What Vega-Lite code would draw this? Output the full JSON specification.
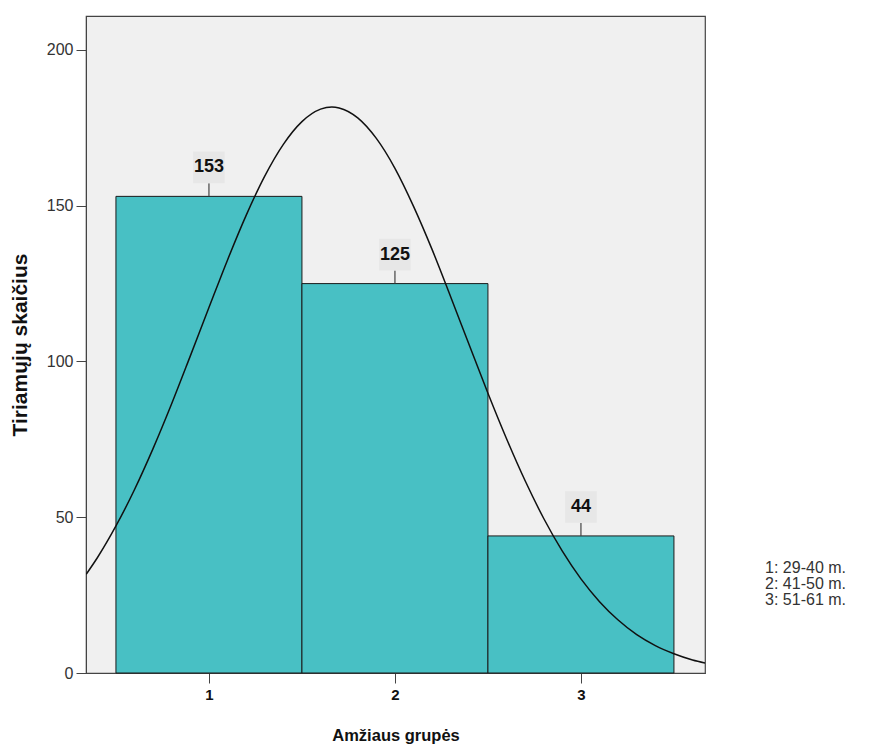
{
  "$schema": "https://vega.github.io/schema/vega-lite/v6.json",
  "width": 619,
  "height": 657,
  "autosize": {"type": "none"},
  "padding": {"left": 86, "top": 16, "right": 186, "bottom": 74},
  "background": "white",
  "config": {
    "font": "Liberation Sans",
    "view": {"fill": "#f0f0f0", "stroke": "#444444", "strokeWidth": 1.2},
    "axis": {"grid": false, "domainColor": "#444444", "tickColor": "#444444", "labelColor": "#333333", "titleColor": "#111111", "labelFont": "Liberation Sans", "titleFont": "Liberation Sans"}
  },
  "datasets": {
    "bars": [
      {"group": 1, "start": 0.5, "end": 1.5, "count": 153},
      {"group": 2, "start": 1.5, "end": 2.5, "count": 125},
      {"group": 3, "start": 2.5, "end": 3.5, "count": 44}
    ],
    "curve": [
      {"x": 0.34, "y": 31.7}, {"x": 0.4, "y": 37.0}, {"x": 0.5, "y": 47.2}, {"x": 0.6, "y": 58.9},
      {"x": 0.7, "y": 72.1}, {"x": 0.8, "y": 86.5}, {"x": 0.9, "y": 101.8}, {"x": 1.0, "y": 117.3},
      {"x": 1.1, "y": 132.6}, {"x": 1.2, "y": 146.9}, {"x": 1.3, "y": 159.5}, {"x": 1.4, "y": 169.7},
      {"x": 1.5, "y": 177.0}, {"x": 1.6, "y": 181.0}, {"x": 1.661, "y": 181.7}, {"x": 1.7, "y": 181.4},
      {"x": 1.8, "y": 178.2}, {"x": 1.9, "y": 171.6}, {"x": 2.0, "y": 162.0}, {"x": 2.1, "y": 149.8},
      {"x": 2.2, "y": 135.9}, {"x": 2.3, "y": 120.7}, {"x": 2.4, "y": 105.2}, {"x": 2.5, "y": 89.8},
      {"x": 2.6, "y": 75.2}, {"x": 2.7, "y": 61.7}, {"x": 2.8, "y": 49.6}, {"x": 2.9, "y": 39.1},
      {"x": 3.0, "y": 30.2}, {"x": 3.1, "y": 22.9}, {"x": 3.2, "y": 17.0}, {"x": 3.3, "y": 12.3},
      {"x": 3.4, "y": 8.8}, {"x": 3.5, "y": 6.2}, {"x": 3.6, "y": 4.2}, {"x": 3.67, "y": 3.2}
    ],
    "notes": [
      {"note": "1: 29-40 m.", "nx": 3.99, "ny": 33.8},
      {"note": "2: 41-50 m.", "nx": 3.99, "ny": 28.6},
      {"note": "3: 51-61 m.", "nx": 3.99, "ny": 23.4}
    ]
  },
  "layer": [
    {
      "data": {"name": "bars"},
      "mark": {"type": "rect", "fill": "#48c0c4", "stroke": "#1a1a1a", "strokeWidth": 1},
      "encoding": {
        "x": {"field": "start", "type": "quantitative", "scale": {"domain": [0.339, 3.667], "nice": false, "zero": false},
          "axis": {"values": [1, 2, 3], "format": "d", "labelFontWeight": "bold", "labelFontSize": 15, "labelColor": "#111111", "tickSize": 10, "labelPadding": 4,
            "title": "Amžiaus grupės", "titleFontSize": 16.5, "titleFontWeight": "bold", "titlePadding": 25}},
        "x2": {"field": "end"},
        "y": {"field": "count", "type": "quantitative", "scale": {"domain": [0, 210.9], "nice": false},
          "axis": {"values": [0, 50, 100, 150, 200], "labelFontSize": 16, "tickSize": 10, "labelPadding": 3,
            "title": "Tiriamųjų skaičius", "titleFontSize": 21, "titleFontWeight": "bold", "titlePadding": 16}},
        "y2": {"datum": 0}
      }
    },
    {
      "data": {"name": "curve"},
      "mark": {"type": "line", "color": "#111111", "strokeWidth": 1.5, "interpolate": "monotone", "clip": true},
      "encoding": {
        "x": {"field": "x", "type": "quantitative"},
        "y": {"field": "y", "type": "quantitative"}
      }
    },
    {
      "data": {"name": "bars"},
      "mark": {"type": "rule", "color": "#444444", "strokeWidth": 1.2, "y2Offset": -13},
      "encoding": {
        "x": {"field": "group", "type": "quantitative"},
        "y": {"field": "count", "type": "quantitative"},
        "y2": {"field": "count"}
      }
    },
    {
      "data": {"name": "bars"},
      "mark": {"type": "point", "shape": "square", "size": 1000, "filled": true, "color": "#e7e7e7", "opacity": 1, "yOffset": -29},
      "encoding": {
        "x": {"field": "group", "type": "quantitative"},
        "y": {"field": "count", "type": "quantitative"}
      }
    },
    {
      "data": {"name": "bars"},
      "mark": {"type": "text", "fontWeight": "bold", "fontSize": 18, "color": "#111111", "baseline": "middle", "yOffset": -29},
      "encoding": {
        "x": {"field": "group", "type": "quantitative"},
        "y": {"field": "count", "type": "quantitative"},
        "text": {"field": "count"}
      }
    },
    {
      "data": {"name": "notes"},
      "mark": {"type": "text", "align": "left", "baseline": "middle", "fontSize": 16, "color": "#333333", "clip": false},
      "encoding": {
        "x": {"field": "nx", "type": "quantitative"},
        "y": {"field": "ny", "type": "quantitative"},
        "text": {"field": "note"}
      }
    }
  ]
}
